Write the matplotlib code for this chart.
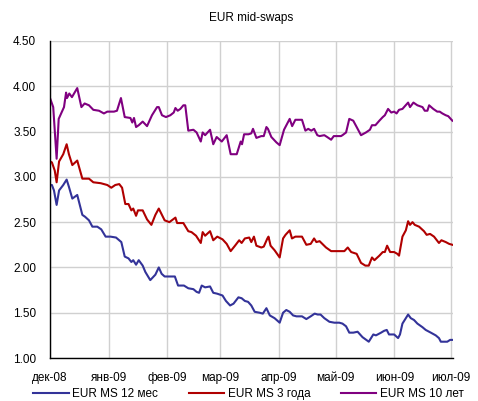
import datetime as dt
import matplotlib
matplotlib.use("Agg")
import matplotlib.pyplot as plt
import matplotlib.dates as mdates

plt.rcParams['font.family'] = ['Liberation Sans', 'DejaVu Sans']

# days since 2008-12-01 and values
days_12m = [0, 1, 2.1, 3.5, 4.8, 7, 8.8, 10, 11.8, 14.4, 17.1, 18.5, 20.6, 22.4, 25, 27.1, 29.4, 32, 34.9,
            37.7, 39.5, 41.5, 43, 44, 45.5, 46.9, 49, 50.4, 53, 55.7, 57.5, 59, 60.6, 63.6, 66, 67.7, 70.8,
            73.1, 75.8, 77.5, 78.8, 80.2, 82, 84.6, 86.3, 88.4, 91.2, 93, 95.2, 97, 99.6, 101.3, 103, 104.7,
            106.4, 108.2, 110.8, 112.5, 114.4, 116.2, 118.7, 121.4, 123.2, 124.9, 126.7, 128.5, 130.3, 133.2,
            135.5, 137.8, 139.9, 141.5, 143, 145, 147.7, 150.3, 152.9, 154.6, 156.5, 158.2, 160.3, 162.6,
            165.2, 168.5, 169.7, 170.9, 172.3, 175, 176.6, 178, 179.2, 181.9, 184, 185, 186.3, 188.1, 189.3,
            190.7, 192.4, 194.2, 196.9, 198.6, 201.3, 203.9, 205.6, 206.6, 208.5, 210, 211.5, 212.7]
ms_12m = [2.91, 2.91, 2.85, 2.69, 2.85, 2.91, 2.97, 2.89, 2.76, 2.80, 2.58, 2.56, 2.52, 2.45, 2.45, 2.42, 2.34,
          2.34, 2.33, 2.28, 2.12, 2.10, 2.06, 2.08, 2.03, 2.08, 2.02, 1.95, 1.86, 1.92, 2.00, 1.93, 1.90, 1.90,
          1.90, 1.80, 1.80, 1.77, 1.76, 1.73, 1.72, 1.80, 1.78, 1.79, 1.72, 1.71, 1.69, 1.63, 1.58, 1.60, 1.67,
          1.66, 1.63, 1.62, 1.58, 1.51, 1.50, 1.49, 1.55, 1.47, 1.44, 1.39, 1.50, 1.53, 1.51, 1.47, 1.46, 1.46,
          1.43, 1.46, 1.49, 1.48, 1.48, 1.44, 1.40, 1.39, 1.39, 1.38, 1.35, 1.28, 1.28, 1.29, 1.23, 1.18, 1.22,
          1.26, 1.25, 1.28, 1.30, 1.31, 1.26, 1.26, 1.22, 1.26, 1.38, 1.44, 1.48, 1.44, 1.42, 1.38, 1.34, 1.31,
          1.28, 1.25, 1.22, 1.18, 1.18, 1.18, 1.20, 1.20]

days_3y = [0, 1, 2.5, 3.5, 4.8, 7, 8.8, 10, 11.8, 14.4, 17.1, 18.5, 20.6, 22.9, 26.8, 30.3, 32.4, 34.5, 36.6,
           38.1, 39.8, 41.5, 43, 44, 45.5, 46.5, 49, 51.3, 53.6, 55.7, 57.5, 60.6, 63.1, 66.3, 67.2, 70.5,
           73.1, 74.8, 77.2, 79.7, 80.7, 82, 84.6, 86.3, 88.4, 91.2, 93.4, 95.5, 97.8, 100, 101.3, 103, 105.3,
           106.4, 107.8, 109.1, 111.7, 113, 114.9, 115.5, 116.6, 118.7, 121.4, 123.2, 124.5, 126.7, 127.9,
           129.7, 133.2, 135.5, 137.8, 139.6, 140.8, 142.5, 145.9, 148.6, 151.2, 155.6, 157.4, 159.2, 162.1,
           164.4, 166.7, 168.5, 170.2, 171.5, 174.1, 175.9, 177, 178.2, 179.8, 181.9, 183.6, 184.5, 186.3,
           188.1, 189.3, 190.3, 191.6, 192.8, 195.1, 197.7, 199.1, 200.9, 203, 205.6, 206.9, 209.2, 211, 212.7]
ms_3y = [3.17, 3.16, 3.07, 2.94, 3.17, 3.25, 3.36, 3.25, 3.13, 3.18, 2.98, 2.98, 2.98, 2.94, 2.93, 2.91, 2.88,
         2.91, 2.92, 2.88, 2.70, 2.70, 2.63, 2.65, 2.57, 2.63, 2.63, 2.53, 2.47, 2.58, 2.65, 2.52, 2.50, 2.55,
         2.49, 2.49, 2.40, 2.39, 2.35, 2.27, 2.39, 2.35, 2.40, 2.30, 2.34, 2.31, 2.26, 2.18, 2.24, 2.30, 2.27,
         2.32, 2.33, 2.28, 2.34, 2.24, 2.22, 2.23, 2.32, 2.34, 2.24, 2.19, 2.11, 2.32, 2.36, 2.41, 2.32, 2.34,
         2.34, 2.25, 2.26, 2.32, 2.28, 2.29, 2.22, 2.18, 2.18, 2.18, 2.22, 2.17, 2.15, 2.05, 2.02, 2.02, 2.11,
         2.08, 2.13, 2.17, 2.17, 2.24, 2.17, 2.17, 2.15, 2.13, 2.34, 2.41, 2.51, 2.47, 2.50, 2.47, 2.45, 2.40,
         2.36, 2.37, 2.34, 2.27, 2.30, 2.28, 2.26, 2.25]

days_10y = [0, 1.7, 3.5, 4.6, 7.4, 8.5, 9, 10.2, 11.6, 14.4, 16.6, 18.3, 20.6, 22.9, 25.9, 28.5, 30.3, 33.8,
            35.4, 37.5, 39.5, 42.5, 43.5, 44.4, 45.5, 46.9, 49, 51.3, 53.9, 56.6, 57.5, 59.2, 61.3, 63.6, 65.4,
            66.3, 67.5, 68.9, 70.5, 71.5, 73.1, 75.8, 77.5, 79.7, 80.7, 82, 84.6, 86.3, 88.1, 90.8, 93.4, 95.5,
            98.7, 100.8, 101.5, 102.6, 104.9, 106.4, 107.3, 109.1, 111.7, 113, 114.4, 115.2, 117, 119.7, 121.4,
            123.7, 126.7, 128, 129.7, 133.2, 135, 136.5, 138.1, 139.6, 141.3, 142.5, 145, 146.5, 148.6, 150,
            153.8, 154.6, 156.5, 158.2, 160.3, 162.1, 164.4, 167, 169.1, 170.2, 172, 174.1, 175.9, 177, 178.7,
            180.4, 181.9, 183.2, 184.5, 186.3, 188, 189.3, 190.3, 192.1, 194.2, 196.9, 198.1, 199.5, 200.4,
            202.6, 204.7, 206, 207.4, 209.2, 210.5, 212.7]
ms_10y = [3.87, 3.77, 3.20, 3.64, 3.77, 3.93, 3.87, 3.92, 3.88, 3.98, 3.77, 3.81, 3.79, 3.74, 3.73, 3.70, 3.72,
          3.72, 3.73, 3.87, 3.66, 3.65, 3.60, 3.65, 3.55, 3.57, 3.61, 3.56, 3.68, 3.77, 3.77, 3.68, 3.66, 3.68,
          3.71, 3.76, 3.73, 3.75, 3.79, 3.79, 3.51, 3.52, 3.49, 3.39, 3.49, 3.46, 3.52, 3.36, 3.44, 3.39, 3.46,
          3.25, 3.25, 3.39, 3.36, 3.47, 3.47, 3.48, 3.53, 3.43, 3.45, 3.45, 3.55, 3.53, 3.44, 3.38, 3.35, 3.52,
          3.64, 3.56, 3.63, 3.63, 3.51, 3.53, 3.51, 3.53, 3.46, 3.45, 3.46, 3.44, 3.41, 3.45, 3.45, 3.46, 3.49,
          3.64, 3.62, 3.55, 3.46, 3.49, 3.52, 3.57, 3.57, 3.62, 3.66, 3.68, 3.75, 3.71, 3.72, 3.70, 3.74, 3.75,
          3.79, 3.82, 3.77, 3.82, 3.79, 3.77, 3.73, 3.73, 3.79, 3.75, 3.72, 3.72, 3.70, 3.68, 3.67, 3.62]

month_labels = ['дек-08', 'янв-09', 'фев-09', 'мар-09', 'апр-09', 'май-09', 'июн-09', 'июл-09']
month_starts = [dt.date(2008, 12, 1), dt.date(2009, 1, 1), dt.date(2009, 2, 1), dt.date(2009, 3, 1),
                dt.date(2009, 4, 1), dt.date(2009, 5, 1), dt.date(2009, 6, 1), dt.date(2009, 7, 1)]
y_ticks = [1.0, 1.5, 2.0, 2.5, 3.0, 3.5, 4.0, 4.5]

t0 = mdates.date2num(dt.date(2008, 12, 1))

def to_dates(days):
	return [t0 + d for d in days]

fig = plt.figure(figsize=(4.78, 4.01), dpi=100)
ax = fig.add_axes([0.1046, 0.1072, 0.843, 0.7906])

ax.plot(to_dates(days_12m), ms_12m, color='#333399', linewidth=1.5, label='EUR MS 12 мес')
ax.plot(to_dates(days_3y), ms_3y, color='#b00000', linewidth=1.5, label='EUR MS 3 года')
ax.plot(to_dates(days_10y), ms_10y, color='#800080', linewidth=1.5, label='EUR MS 10 лет')

ax.set_xlim(t0, t0 + 213)
ax.set_ylim(1.0, 4.5)
ax.set_xticks(mdates.date2num(month_starts))
ax.set_xticklabels(month_labels)
ax.set_yticks(y_ticks)
ax.set_yticklabels(['%.2f' % v for v in y_ticks])
ax.tick_params(axis='both', length=0, labelsize=8.5)
ax.tick_params(axis='y', pad=10)
ax.tick_params(axis='x', pad=10)

ax.grid(True, color='#d0d0d0', linewidth=1)
ax.set_axisbelow(True)
for s in ['top', 'right']:
	ax.spines[s].set_visible(False)
for s in ['left', 'bottom']:
	ax.spines[s].set_color('black')
	ax.spines[s].set_linewidth(1)

fig.text(0.525, 0.955, 'EUR mid-swaps', ha='center', va='center', fontsize=8.5)

fig.legend(loc='center', bbox_to_anchor=(0.52, 0.017), ncol=3, frameon=False, fontsize=8.5,
           handlelength=3.0, handletextpad=0.3, columnspacing=2.6, borderpad=0)

plt.savefig('out.png', dpi=100)
plt.close(fig)
